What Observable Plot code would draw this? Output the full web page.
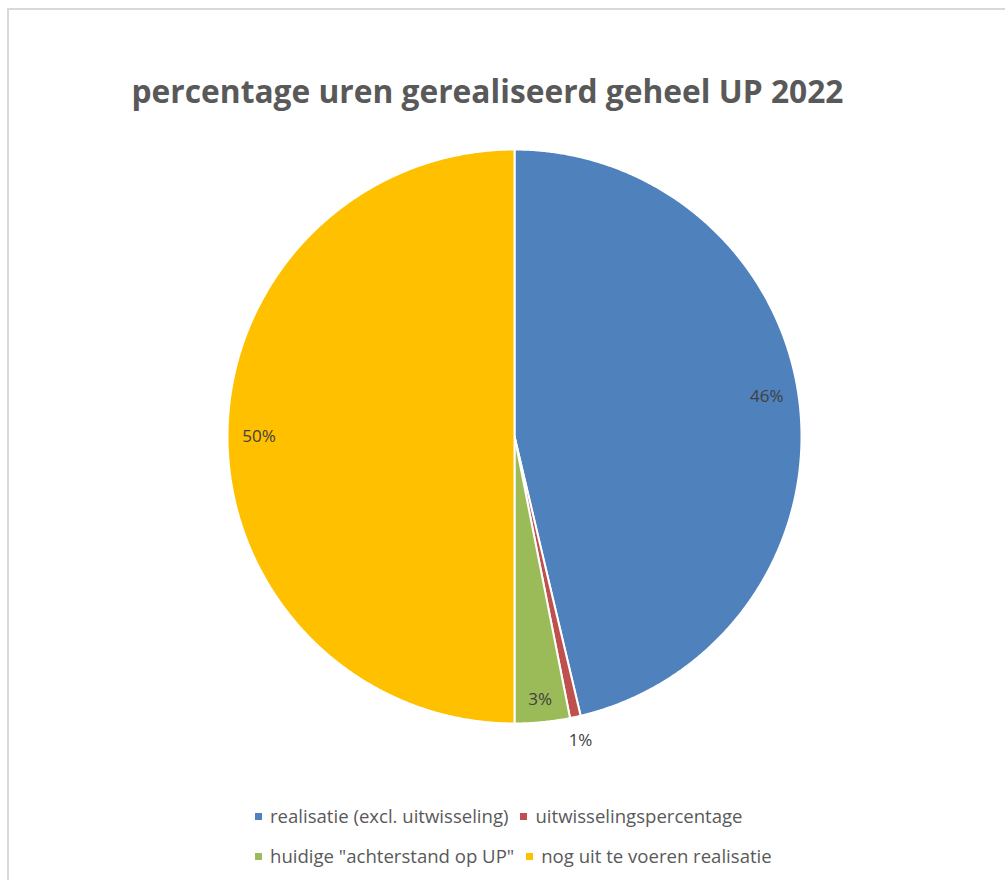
<!DOCTYPE html>
<html>
<head>
<meta charset="utf-8">
<script src="https://cdn.jsdelivr.net/npm/d3@7"></script>
<script src="https://cdn.jsdelivr.net/npm/@observablehq/plot@0.6"></script>
<style>
  html, body { margin: 0; padding: 0; background: #fff; overflow: hidden; }
  #wrap { position: relative; width: 1005px; height: 880px; overflow: hidden; }
  #frame { position: absolute; left: 7px; top: 8px; width: 1010px; height: 900px; border: 2px solid #d9d9d9; box-sizing: border-box; }
  #title { position: absolute; top: 69px; left: 0; width: 975px; text-align: center; font-family: "Open Sans", sans-serif; font-weight: 700; color: #595959; white-space: nowrap; }
  #chart { position: absolute; left: 0; top: 140px; }
  .leg { position: absolute; font-family: "Open Sans", sans-serif; color: #595959; white-space: nowrap; line-height: 1; }
  .sw { position: absolute; width: 7px; height: 7px; }
</style>
</head>
<body>
<div id="wrap">
  <div id="frame"></div>
  <div id="title"></div>
  <div id="chart"></div>
  <div id="legend"></div>
</div>
<script>
const title = "percentage uren gerealiseerd geheel UP 2022";
const categories = ["realisatie (excl. uitwisseling)", "uitwisselingspercentage", "huidige \"achterstand op UP\"", "nog uit te voeren realisatie"];
const values = [46.3, 0.6, 3.1, 50.0];
const valueLabels = ["46%", "1%", "3%", "50%"];
const colors = ["#4f81bd", "#c0504d", "#9bbb59", "#ffc000"];

const ctx = document.createElement("canvas").getContext("2d");
function textWidth(text, weight, size) {
  ctx.font = `${weight} ${size}px "Open Sans"`;
  return ctx.measureText(text).width;
}
function fitSize(text, weight, target) {
  return 100 * target / textWidth(text, weight, 100);
}

const t = document.getElementById("title");
t.textContent = title;
t.style.fontSize = fitSize(title, 700, 712) + "px";

const arcs = d3.pie().sort(null).value(d => d.value)(categories.map((name, i) => ({name, value: values[i], label: valueLabels[i]})));
const points = [];
for (const a of arcs) {
  points.push({name: a.data.name, x: 0, y: 0});
  const n = Math.max(4, Math.ceil((a.endAngle - a.startAngle) / 0.005));
  for (let k = 0; k <= n; k++) {
    const ang = a.startAngle + (a.endAngle - a.startAngle) * k / n;
    points.push({name: a.data.name, x: Math.sin(ang), y: Math.cos(ang)});
  }
}
const labelPts = arcs.map(a => {
  let mid = (a.startAngle + a.endAngle) / 2;
  const share = (a.endAngle - a.startAngle) / (2 * Math.PI);
  let r = 0.89;
  if (share < 0.02) r = 1.085;
  else if (share < 0.1) r = 0.92;
  else if (share < 0.49) mid -= 0.04;
  return {label: a.data.label, x: r * Math.sin(mid), y: r * Math.cos(mid)};
});

const plot = Plot.plot({
  width: 1005,
  height: 640,
  margin: 0,
  x: {domain: [-1, 1], range: [227, 801], axis: null},
  y: {domain: [-1, 1], range: [583, 9], axis: null},
  color: {domain: categories, range: colors},
  style: {background: "transparent"},
  marks: [
    Plot.line(points, {x: "x", y: "y", z: "name", fill: "name", stroke: "white", strokeWidth: 2, strokeLinejoin: "round", curve: "linear-closed"}),
    Plot.text(labelPts, {x: "x", y: "y", text: "label", fill: "#404040", fontSize: 17, fontFamily: "Open Sans, sans-serif"})
  ]
});
document.getElementById("chart").appendChild(plot);

// legend: two rows, flowing left to right from the same left edge
const rows = [[0, 1], [2, 3]];
const rowY = [817, 857];
const left = 255, swGap = 8, itemGap = 12, swSize = 7;
const targets = [748 - left, 772 - left];
const sizes = rows.map((row, r) => {
  const fixed = row.length * (swSize + swGap) + (row.length - 1) * itemGap;
  const text100 = row.reduce((acc, i) => acc + textWidth(categories[i], 400, 100), 0);
  return 100 * (targets[r] - fixed) / text100;
});
const legendSize = Math.min(...sizes);
const leg = document.getElementById("legend");
rows.forEach((row, r) => {
  let x = left;
  row.forEach(i => {
    const sw = document.createElement("div");
    sw.className = "sw";
    sw.style.left = x + "px"; sw.style.top = (rowY[r] - 4) + "px"; sw.style.background = colors[i];
    leg.appendChild(sw);
    x += swSize + swGap;
    const tx = document.createElement("div");
    tx.className = "leg";
    tx.textContent = categories[i];
    tx.style.left = x + "px";
    tx.style.fontSize = legendSize + "px";
    tx.style.top = (rowY[r] - legendSize * 0.55) + "px";
    leg.appendChild(tx);
    x += textWidth(categories[i], 400, legendSize) + itemGap;
  });
});
</script>
</body>
</html>
